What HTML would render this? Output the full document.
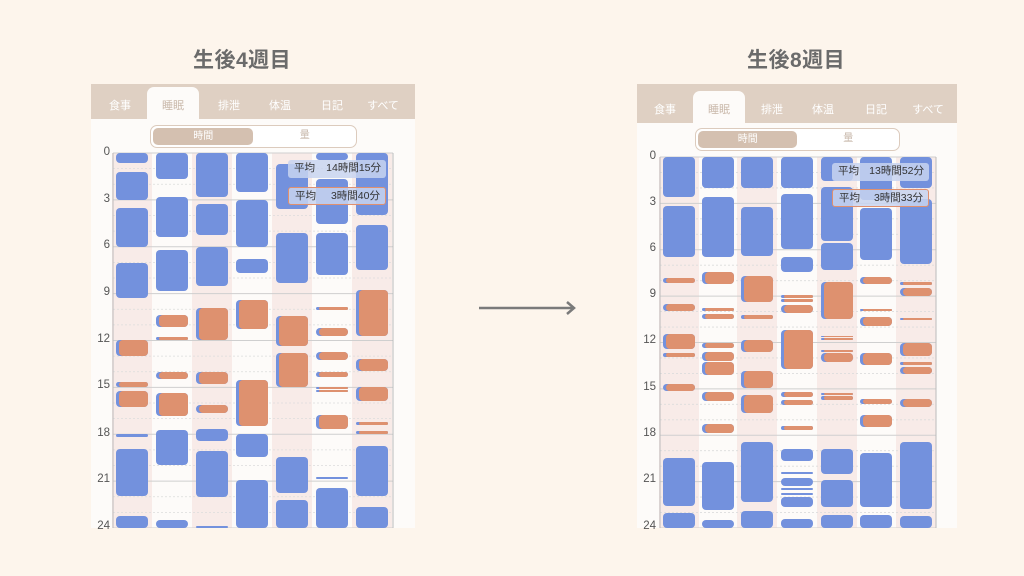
<!DOCTYPE html>
<html><head><meta charset="utf-8">
<style>
*{margin:0;padding:0;box-sizing:border-box}
body{width:1024px;height:576px;background:#fdf5ec;position:relative;overflow:hidden;font-family:"Liberation Sans","Noto Sans CJK JP",sans-serif}
.t{position:absolute;font-size:21px;font-weight:bold;color:#6b6b6b;top:44px;letter-spacing:0.5px}
.panel{position:absolute;background:#fdfbf9;overflow:hidden}
.tabs{position:absolute;left:0;right:0;top:0;background:#dfd0c3}
.tab{position:absolute;font-size:11px;color:#fff;transform:translateX(-50%);white-space:nowrap}
.sel{position:absolute;background:#fdfbf9;border-radius:7px 7px 0 0}
.seg{position:absolute;border:1.5px solid #dccbbd;border-radius:7px;background:#fff}
.seg .on{position:absolute;left:2px;top:2px;bottom:2px;width:49%;background:#d4c0b0;border-radius:5px;color:#fff;font-size:10px;text-align:center}
.seg .off{position:absolute;right:0;top:0;bottom:0;width:50%;color:#c7b7aa;font-size:10px;text-align:center}
.ax{position:absolute;font-size:11.5px;color:#555;text-align:right;width:20px}
.lg{position:absolute;background:rgba(200,212,240,.85);border-radius:3px;font-size:10.5px;color:#333;padding-left:6px;line-height:17px;white-space:nowrap}
.lg b{font-weight:normal;position:absolute;right:5px}
</style></head><body>
<div class="t" style="left:193px">生後4週目</div>
<div class="t" style="left:747px">生後8週目</div>
<svg style="position:absolute;left:470px;top:298px" width="120" height="22"><line x1="9" y1="10" x2="103" y2="10" stroke="#7a7a7a" stroke-width="2.5"/><polyline points="97,4 104,10 97,16" fill="none" stroke="#7a7a7a" stroke-width="2.5"/></svg>

<div class="panel" id="L" style="left:91px;top:84px;width:324px;height:444px">
 <div class="tabs" style="height:35px"></div>
 <div class="sel" style="left:56px;top:3px;width:52px;height:33px"></div>
 <div class="tab" style="left:29px;top:13px">食事</div>
 <div class="tab" style="left:82px;top:13px;color:#c9b8aa">睡眠</div>
 <div class="tab" style="left:138px;top:13px">排泄</div>
 <div class="tab" style="left:189px;top:13px">体温</div>
 <div class="tab" style="left:241px;top:13px">日記</div>
 <div class="tab" style="left:292px;top:13px">すべて</div>
 <div class="seg" style="left:59px;top:41px;width:207px;height:23px"><div class="on" style="line-height:17px">時間</div><div class="off" style="line-height:20px">量</div></div>
</div>
<div class="panel" id="R" style="left:637px;top:84px;width:320px;height:444px">
 <div class="tabs" style="height:39px"></div>
 <div class="sel" style="left:56px;top:7px;width:52px;height:33px"></div>
 <div class="tab" style="left:28px;top:17px">食事</div>
 <div class="tab" style="left:82px;top:17px;color:#c9b8aa">睡眠</div>
 <div class="tab" style="left:135px;top:17px">排泄</div>
 <div class="tab" style="left:186px;top:17px">体温</div>
 <div class="tab" style="left:239px;top:17px">日記</div>
 <div class="tab" style="left:291px;top:17px">すべて</div>
 <div class="seg" style="left:58px;top:44px;width:205px;height:23px"><div class="on" style="line-height:17px">時間</div><div class="off" style="line-height:20px">量</div></div>
</div>
<svg id="S" style="position:absolute;left:0;top:0" width="1024" height="576"></svg>
<div class="ax" style="left:90px;top:146px">0</div><div class="ax" style="left:90px;top:193px">3</div><div class="ax" style="left:90px;top:239px">6</div><div class="ax" style="left:90px;top:286px">9</div><div class="ax" style="left:90px;top:333px">12</div><div class="ax" style="left:90px;top:379px">15</div><div class="ax" style="left:90px;top:427px">18</div><div class="ax" style="left:90px;top:473px">21</div><div class="ax" style="left:90px;top:520px">24</div>
<div class="ax" style="left:636px;top:150px">0</div><div class="ax" style="left:636px;top:196px">3</div><div class="ax" style="left:636px;top:242px">6</div><div class="ax" style="left:636px;top:288px">9</div><div class="ax" style="left:636px;top:334px">12</div><div class="ax" style="left:636px;top:381px">15</div><div class="ax" style="left:636px;top:427px">18</div><div class="ax" style="left:636px;top:473px">21</div><div class="ax" style="left:636px;top:520px">24</div>
<div class="lg" style="left:288px;top:160px;width:98px;height:18px">平均<b>14時間15分</b></div>
<div class="lg" style="left:288px;top:187px;width:98px;height:18px;border:1px solid #e0906f;line-height:16px">平均<b>3時間40分</b></div>
<div class="lg" style="left:832px;top:163px;width:97px;height:18px">平均<b>13時間52分</b></div>
<div class="lg" style="left:832px;top:189px;width:97px;height:18px;border:1px solid #e0906f;line-height:16px">平均<b>3時間33分</b></div>
<script>
var S=document.getElementById('S'),h='';
function chart(x0,x1,y0,y1,cols,data){
 var ph=(y1-y0)/24;
 for(var i=0;i<7;i+=2){var c=cols[i];h+='<rect x="'+(c-4)+'" y="'+y0+'" width="40" height="'+(y1-y0)+'" fill="#f8ebe8"/>';}
 for(var k=0;k<=24;k++){var y=y0+k*ph;if(k%3==0)h+='<line x1="'+x0+'" x2="'+x1+'" y1="'+y+'" y2="'+y+'" stroke="#cfcfcf" stroke-width="1"/>';else h+='<line x1="'+x0+'" x2="'+x1+'" y1="'+y+'" y2="'+y+'" stroke="#dcdcdc" stroke-width="0.8" stroke-dasharray="2,2"/>';}
 h+='<line x1="'+x0+'" x2="'+x0+'" y1="'+y0+'" y2="'+y1+'" stroke="#bbb"/><line x1="'+x1+'" x2="'+x1+'" y1="'+y0+'" y2="'+y1+'" stroke="#bbb"/>';
 for(var i=0;i<7;i++){var c=cols[i];data[i].forEach(function(b){var a=b[1],e=Math.min(b[2],y1),ht=e-a,r=Math.min(4,ht/2);
  if(b[0]=='b')h+='<rect x="'+c+'" y="'+a+'" width="32" height="'+ht+'" rx="'+r+'" fill="#7391dd"/>';
  else{h+='<rect x="'+c+'" y="'+a+'" width="32" height="'+ht+'" rx="'+r+'" fill="#7391dd"/><rect x="'+(c+3)+'" y="'+a+'" width="29" height="'+ht+'" rx="'+r+'" fill="#de916f"/>';}
 });}
 h+='<rect x="'+(x0-2)+'" y="'+y1+'" width="'+(x1-x0+4)+'" height="10" fill="#fdf5ec"/>';
}
chart(113,393,153,528,[116,156,196,236,276,316,356],[
[['b',153,163],['b',172,200],['b',208,247],['b',263,298],['o',340,356],['o',382,387],['o',391,407],['b',434,437],['b',449,496],['b',516,530]],
[['b',153,179],['b',197,237],['b',250,291],['o',315,327],['o',337,340],['o',372,379],['o',393,416],['b',430,465],['b',520,530]],
[['b',153,197],['b',204,235],['b',247,286],['o',308,340],['o',372,384],['o',405,413],['b',429,441],['b',451,497],['b',526,530]],
[['b',153,192],['b',200,247],['b',259,273],['o',300,329],['o',380,426],['b',434,457],['b',480,530]],
[['b',164,209],['b',233,283],['o',316,346],['o',353,387],['b',457,493],['b',500,530]],
[['b',153,160],['b',179,224],['b',233,275],['o',307,310],['o',328,336],['o',352,360],['o',372,377],['o',387,389],['o',390,392],['o',415,429],['b',477,479],['b',488,530]],
[['b',153,215],['b',225,270],['o',290,336],['o',359,371],['o',387,401],['o',422,425],['o',431,434],['b',446,496],['b',507,530]]]);
chart(660,936,157,528,[663,702,741,781,821,860,900],[
[['b',157,197],['b',206,257],['o',278,283],['o',304,311],['o',334,349],['o',353,357],['o',384,391],['b',458,506],['b',513,530]],
[['b',157,188],['b',197,257],['o',272,284],['o',308,311],['o',314,319],['o',343,348],['o',352,361],['o',362,375],['o',392,401],['o',424,433],['b',462,510],['b',520,530]],
[['b',157,188],['b',207,256],['o',276,302],['o',315,319],['o',340,352],['o',371,388],['o',395,413],['b',442,502],['b',511,530]],
[['b',157,188],['b',194,249],['b',257,272],['o',295,298],['o',299,302],['o',305,313],['o',330,369],['o',392,397],['o',400,405],['o',426,430],['b',449,461],['b',472,474],['b',478,486],['b',488,490],['b',493,495],['b',497,507],['b',519,530]],
[['b',157,181],['b',187,241],['b',243,270],['o',282,319],['o',336,337],['o',338,340],['o',350,352],['o',353,362],['o',393,395],['o',396,400],['b',449,474],['b',480,507],['b',515,530]],
[['b',157,200],['b',208,260],['o',277,284],['o',309,311],['o',317,326],['o',353,365],['o',399,404],['o',415,427],['b',453,507],['b',515,530]],
[['b',157,188],['b',199,264],['o',282,285],['o',288,296],['o',318,320],['o',343,356],['o',362,365],['o',367,374],['o',399,407],['b',442,509],['b',516,530]]]);
S.innerHTML=h;
</script>
</body></html>
